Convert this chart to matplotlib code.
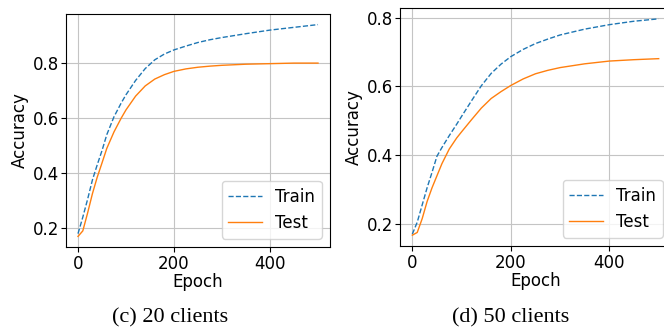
import matplotlib
matplotlib.use("Agg")
import matplotlib.pyplot as plt

epochs = [0, 10, 20, 30, 40, 50, 60, 75, 90, 100, 120, 140, 160, 180, 200,
          225, 250, 275, 300, 350, 400, 450, 500]

# 20 clients
train_20 = [0.18, 0.24, 0.305, 0.375, 0.43, 0.482, 0.54, 0.605, 0.655, 0.685, 0.737,
            0.78, 0.812, 0.833, 0.848, 0.862, 0.875, 0.885, 0.893, 0.907, 0.92,
            0.93, 0.94]
test_20 = [0.17, 0.19, 0.255, 0.325, 0.385, 0.437, 0.49, 0.55, 0.60, 0.63, 0.68,
           0.717, 0.742, 0.758, 0.77, 0.779, 0.785, 0.789, 0.792, 0.796, 0.798,
           0.80, 0.80]

# 50 clients
train_50 = [0.17, 0.205, 0.255, 0.305, 0.35, 0.397, 0.422, 0.457, 0.49, 0.513, 0.558,
            0.602, 0.638, 0.665, 0.687, 0.708, 0.725, 0.738, 0.75, 0.767, 0.78,
            0.79, 0.797]
test_50 = [0.167, 0.175, 0.215, 0.265, 0.305, 0.34, 0.375, 0.418, 0.45, 0.468, 0.503,
           0.537, 0.565, 0.585, 0.603, 0.622, 0.637, 0.647, 0.655, 0.666, 0.674,
           0.678, 0.681]

captions = ["(c) 20 clients", "(d) 50 clients"]

plt.rcParams['font.size'] = 12
plt.rcParams['xtick.major.pad'] = 2
plt.rcParams['ytick.major.pad'] = 1.5
plt.rcParams['grid.color'] = '#c4c4c4'

fig = plt.figure(figsize=(6.64, 3.28), dpi=100)
W, H = 664, 328
ax1 = fig.add_axes([66 / W, (H - 247) / H, 264 / W, 233 / H])
ax2 = fig.add_axes([400 / W, (H - 246) / H, 271 / W, 238 / H])

for ax, tr, te in [(ax1, train_20, test_20), (ax2, train_50, test_50)]:
    ax.plot(epochs, tr, '--', color='C0', lw=1, label='Train')
    ax.plot(epochs, te, '-', color='C1', lw=1, label='Test')
    ax.set_xlabel('Epoch', labelpad=0)
    ax.set_ylabel('Accuracy', labelpad=3)
    ax.set_xticks([0, 200, 400])
    ax.set_yticks([0.2, 0.4, 0.6, 0.8])
    ax.grid(True)
    ax.legend(loc='lower right')

fig.text(170 / W, 1 - 318 / H, captions[0], ha='center', va='center',
         family='Liberation Serif', fontsize=16)
fig.text(511 / W, 1 - 318 / H, captions[1], ha='center', va='center',
         family='Liberation Serif', fontsize=16)

fig.savefig('out.png', dpi=100)
